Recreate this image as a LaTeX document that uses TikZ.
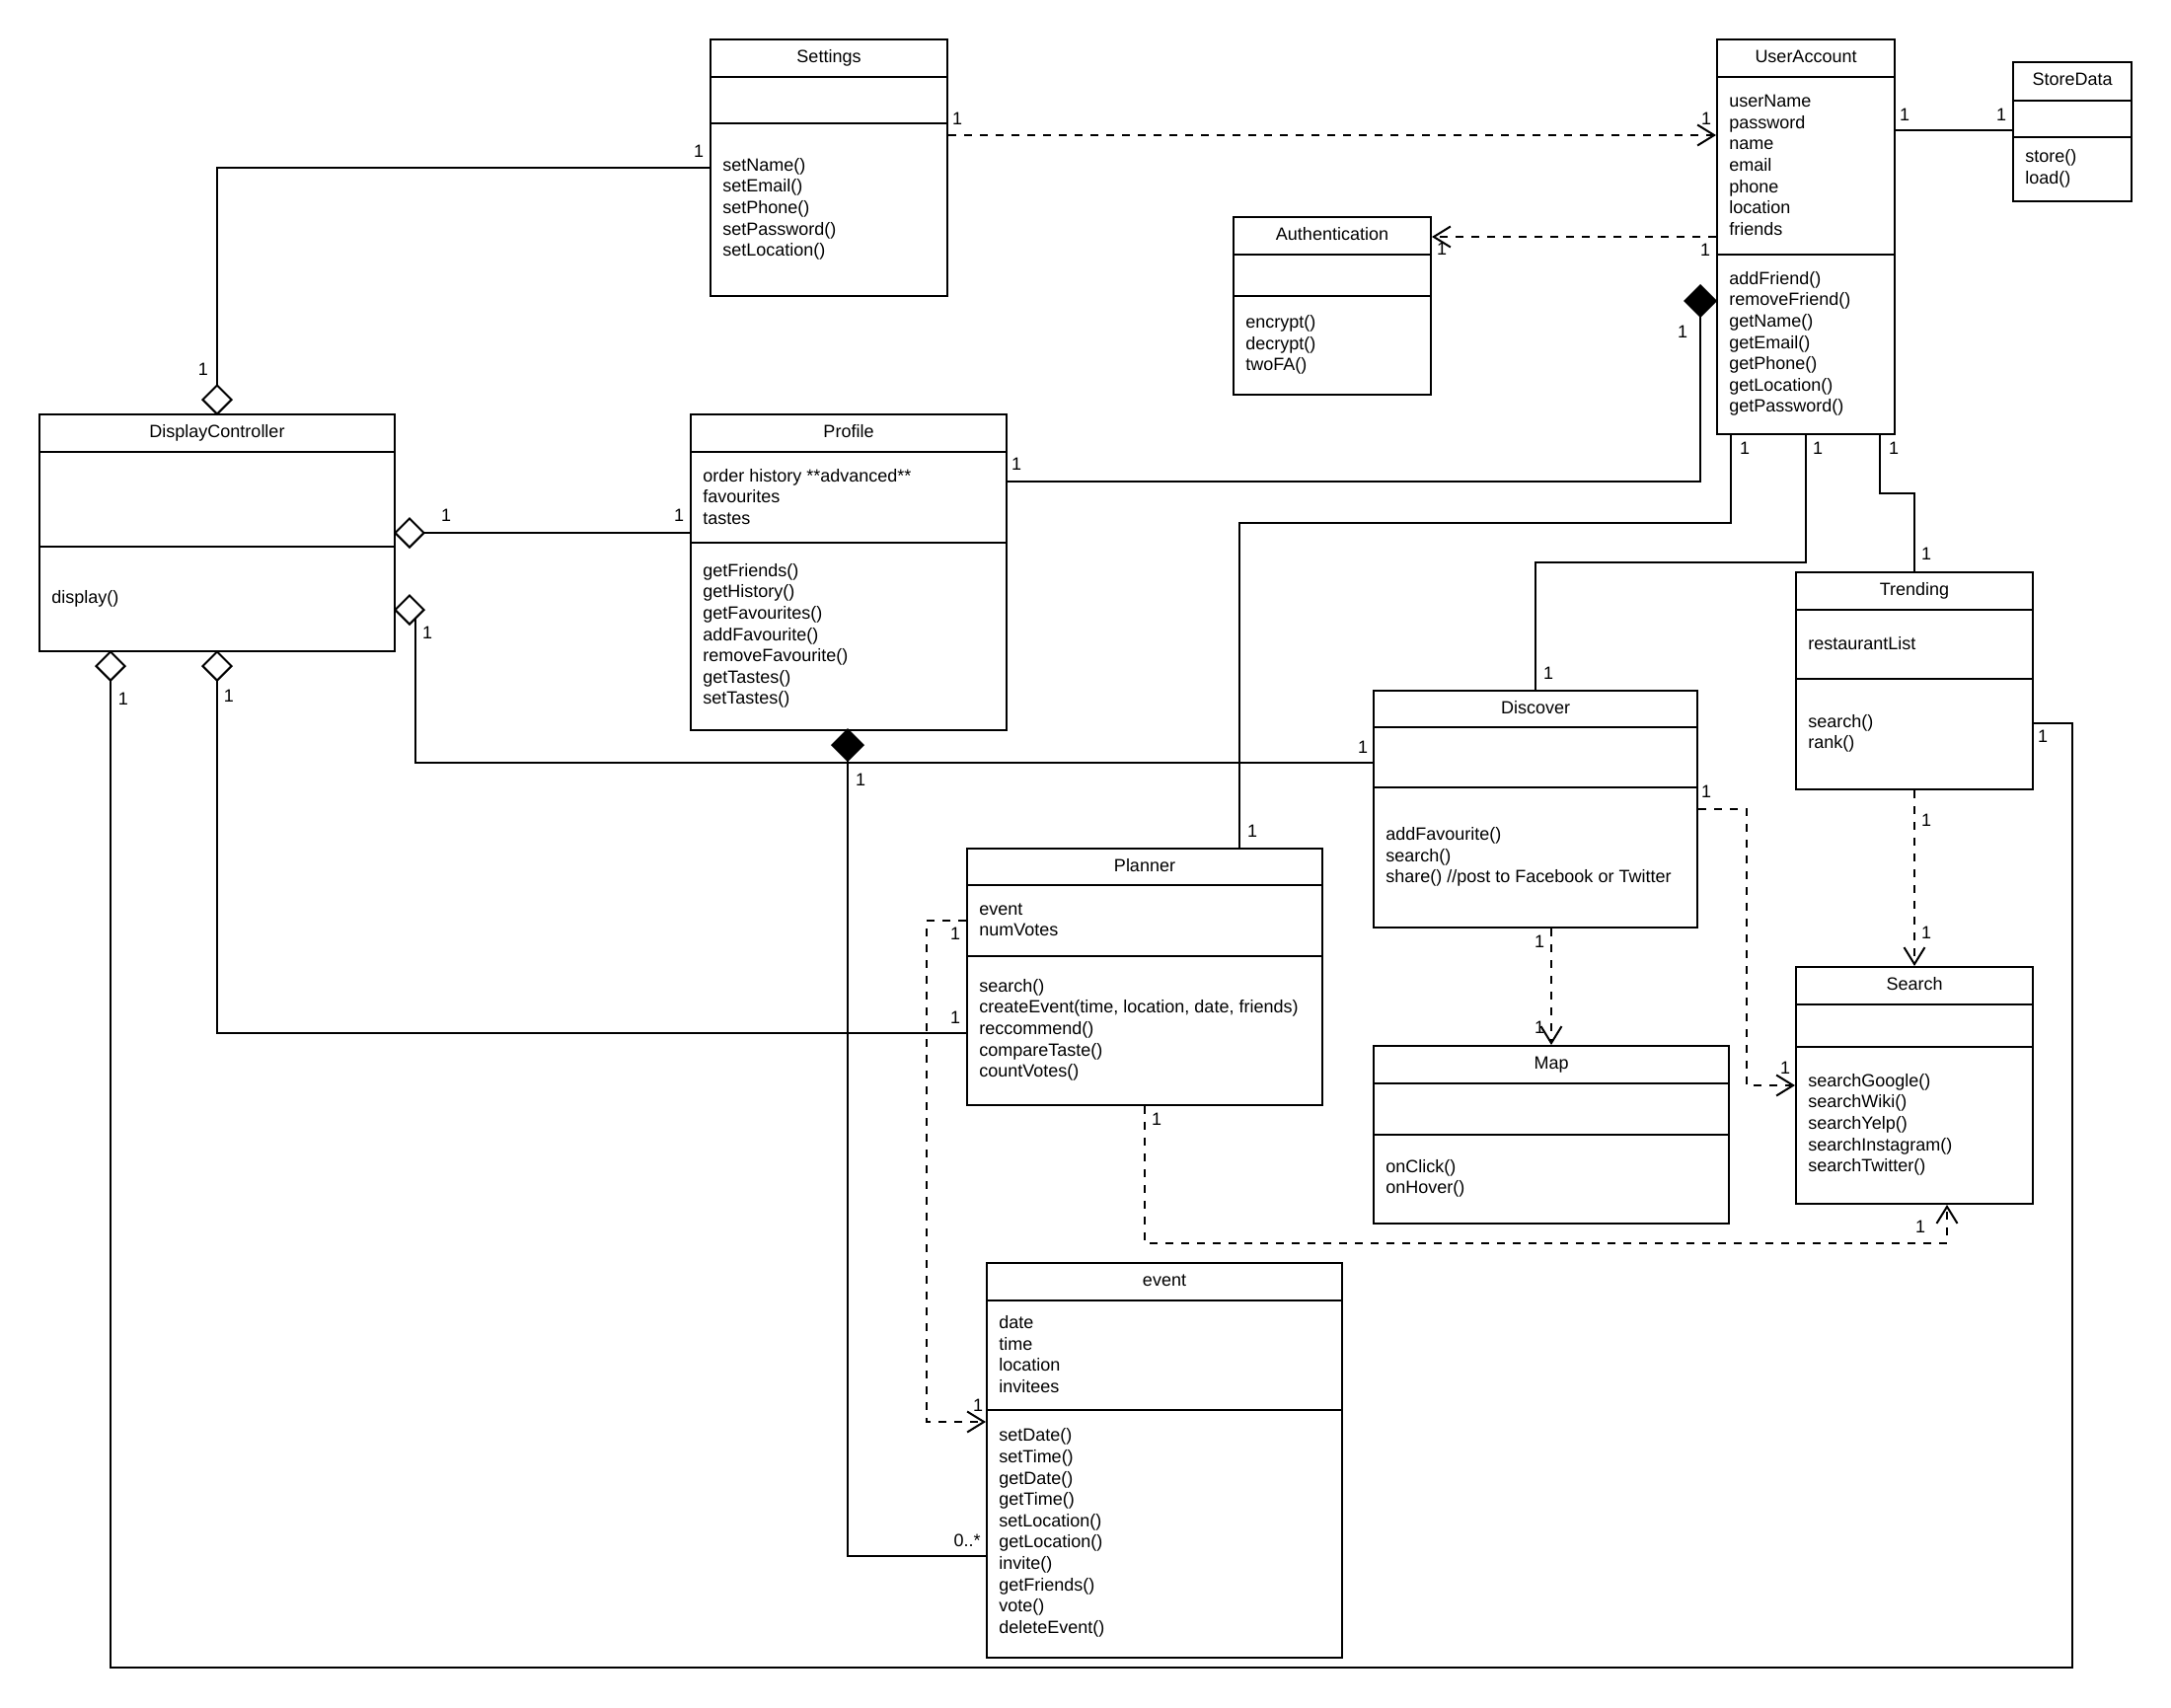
\documentclass[tikz,border=0pt]{standalone}
\usepackage{fontspec}
\setmainfont{Liberation Sans}
\usetikzlibrary{arrows.meta,fit,shapes.geometric}
\tikzset{
  classbox/.style={draw, line width=1pt, inner sep=0pt, fill=white},
  boxline/.style={line width=1pt},
  titletext/.style={anchor=base, inner sep=0pt, font=\fontsize{9}{10.8}\selectfont},
  membertext/.style={anchor=west, align=left, inner sep=0pt, yshift=-0.7pt, font=\fontsize{9}{10.8}\selectfont},
  mult/.style={inner sep=0pt, font=\fontsize{9}{10.8}\selectfont},
  assoc/.style={line width=1pt},
  dep/.style={line width=1pt, dash pattern=on 4pt off 4pt, -{Straight Barb[length=8.5pt,width=10.5pt]}},
  aggr/.style={diamond, draw, line width=1pt, fill=white, inner sep=0pt, minimum width=15pt, minimum height=15pt},
  comp/.style={diamond, draw, line width=1pt, fill=black, inner sep=0pt, minimum width=16pt, minimum height=16pt},
}
\newcommand{\umlclass}[8]{%
  \coordinate (#1-nw) at (#2,#3);
  \coordinate (#1-se) at (#4,#5);
  \node[classbox, fit=(#1-nw)(#1-se)] (#1) {};
  \draw[boxline] (#2,#6) -- (#4,#6) (#2,#7) -- (#4,#7);
  \node[titletext] (#1-title) at ({(#2+#4)/2},{#3+23.3}) {#8};
}
\begin{document}
\begin{tikzpicture}[x=0.5pt,y=-0.5pt]
\useasboundingbox (0,0) rectangle (2200,1730);

% ---------- classes ----------
\umlclass{settings}{720}{40}{960}{300}{78}{125}{Settings}
\node[membertext] (settings-m) at (732,210.5) {setName()\\setEmail()\\setPhone()\\setPassword()\\setLocation()};

\umlclass{ua}{1740}{40}{1920}{440}{78}{258}{UserAccount}
\node[membertext] (ua-a) at (1752,166) {userName\\password\\name\\email\\phone\\location\\friends};
\node[membertext] (ua-m) at (1752,347) {addFriend()\\removeFriend()\\getName()\\getEmail()\\getPhone()\\getLocation()\\getPassword()};

\umlclass{store}{2040}{63}{2160}{204}{102}{139}{StoreData}
\node[membertext] (store-m) at (2052,169.5) {store()\\load()};

\umlclass{auth}{1250}{220}{1450}{400}{258}{300}{Authentication}
\node[membertext] (auth-m) at (1262,348) {encrypt()\\decrypt()\\twoFA()};

\umlclass{dc}{40}{420}{400}{660}{458}{554}{DisplayController}
\node[membertext] (dc-m) at (52,605) {display()};

\umlclass{profile}{700}{420}{1020}{740}{458}{550}{Profile}
\node[membertext] (profile-a) at (712,502) {order history **advanced**\\favourites\\tastes};
\node[membertext] (profile-m) at (712,643) {getFriends()\\getHistory()\\getFavourites()\\addFavourite()\\removeFavourite()\\getTastes()\\setTastes()};

\umlclass{trending}{1820}{580}{2060}{800}{618}{688}{Trending}
\node[membertext] (trending-a) at (1832,651) {restaurantList};
\node[membertext] (trending-m) at (1832,742) {search()\\rank()};

\umlclass{discover}{1392}{700}{1720}{940}{737}{798}{Discover}
\node[membertext] (discover-m) at (1404,867) {addFavourite()\\search()\\share() //post to Facebook or Twitter};

\umlclass{planner}{980}{860}{1340}{1120}{897}{969}{Planner}
\node[membertext] (planner-a) at (992,931) {event\\numVotes};
\node[membertext] (planner-m) at (992,1042.5) {search()\\createEvent(time, location, date, friends)\\reccommend()\\compareTaste()\\countVotes()};

\umlclass{map}{1392}{1060}{1752}{1240}{1098}{1150}{Map}
\node[membertext] (map-m) at (1404,1193) {onClick()\\onHover()};

\umlclass{search}{1820}{980}{2060}{1220}{1018}{1061}{Search}
\node[membertext] (search-m) at (1832,1138.5) {searchGoogle()\\searchWiki()\\searchYelp()\\searchInstagram()\\searchTwitter()};

\umlclass{event}{1000}{1280}{1360}{1680}{1318}{1429}{event}
\node[membertext] (event-a) at (1012,1371) {date\\time\\location\\invitees};
\node[membertext] (event-m) at (1012,1552) {setDate()\\setTime()\\getDate()\\getTime()\\setLocation()\\getLocation()\\invite()\\getFriends()\\vote()\\deleteEvent()};

% ---------- diamonds (positions) ----------
\coordinate (pSet) at (220,405);
\coordinate (pProf) at (415,540);
\coordinate (pDisc) at (415,618);
\coordinate (pTr) at (112,675);
\coordinate (pPl) at (220,675);
\coordinate (pEv) at (859,755);
\coordinate (pUA) at (1723,305);

% ---------- connectors ----------
% Settings -> UserAccount
\draw[dep] (settings.east |- 0,137) -- (ua.west |- 0,137);
% Settings -- DisplayController
\draw[assoc] (pSet) |- (settings.west |- 0,170);
% DisplayController -- Profile
\draw[assoc] (pProf) -- (profile.west |- 0,540);
% DisplayController -- Discover
\draw[assoc] (421,618) |- (discover.west |- 0,773);
% Profile -- UserAccount
\draw[assoc] (pUA) |- (profile.east |- 0,488);
% UserAccount -> Authentication
\draw[dep] (ua.west |- 0,240) -- (auth.east |- 0,240);
% UserAccount -- StoreData
\draw[assoc] (ua.east |- 0,132) -- (store.west |- 0,132);
% UserAccount -- Planner
\draw[assoc] (ua.south -| 1754,0) -- (1754,530) -| (planner.north -| 1256,0);
% UserAccount -- Discover
\draw[assoc] (ua.south -| 1830,0) -- (1830,570) -| (discover.north);
% UserAccount -- Trending
\draw[assoc] (ua.south -| 1905,0) -- (1905,500) -| (trending.north);
% Trending -> Search
\draw[dep] (trending.south) -- (search.north);
% Trending -- DisplayController
\draw[assoc] (trending.east |- 0,733) -| (2100,1690) -| (pTr);
% DisplayController -- Planner
\draw[assoc] (pPl) |- (planner.west |- 0,1047);
% Profile -- event
\draw[assoc] (pEv) |- (event.west |- 0,1577);
% Planner -> event
\draw[dep] (planner.west |- 0,933) -- (939,933) |- (event.west |- 0,1441);
% Planner -> Search
\draw[dep] (planner.south) |- (1973,1260) -- (search.south -| 1973,0);
% Discover -> Map
\draw[dep] (discover.south -| 1572,0) -- (map.north);
% Discover -> Search
\draw[dep] (discover.east |- 0,820) -| (1770,1100) -- (search.west |- 0,1100);

% ---------- diamond heads ----------
\node[aggr] (dSet) at (pSet) {};
\node[aggr] (dProf) at (pProf) {};
\node[aggr] (dDisc) at (pDisc) {};
\node[aggr] (dTr) at (pTr) {};
\node[aggr] (dPl) at (pPl) {};
\node[comp] (dEv) at (pEv) {};
\node[comp] (dUA) at (pUA) {};

% ---------- multiplicities ----------
\node[mult] at (970,120) {1};
\node[mult] at (1729,120) {1};
\node[mult] at (708,153) {1};
\node[mult] at (206,374) {1};
\node[mult] at (452,522) {1};
\node[mult] at (688,522) {1};
\node[mult] at (433,641) {1};
\node[mult] at (1381,757) {1};
\node[mult] at (1030,470) {1};
\node[mult] at (1705,336) {1};
\node[mult] at (1461,252) {1};
\node[mult] at (1728,253) {1};
\node[mult] at (1930,116) {1};
\node[mult] at (2028,116) {1};
\node[mult] at (1768,454) {1};
\node[mult] at (1269,842) {1};
\node[mult] at (1842,454) {1};
\node[mult] at (1569,682) {1};
\node[mult] at (1919,454) {1};
\node[mult] at (1952,561) {1};
\node[mult] at (1952,831) {1};
\node[mult] at (1952,945) {1};
\node[mult] at (125,708) {1};
\node[mult] at (2070,746) {1};
\node[mult] at (232,705) {1};
\node[mult] at (968,1031) {1};
\node[mult] at (872,790) {1};
\node[mult] at (980,1561) {0..*};
\node[mult] at (968,946) {1};
\node[mult] at (991,1424) {1};
\node[mult] at (1172,1134) {1};
\node[mult] at (1946,1243) {1};
\node[mult] at (1560,954) {1};
\node[mult] at (1560,1041) {1};
\node[mult] at (1729,802) {1};
\node[mult] at (1809,1082) {1};
\end{tikzpicture}
\end{document}
